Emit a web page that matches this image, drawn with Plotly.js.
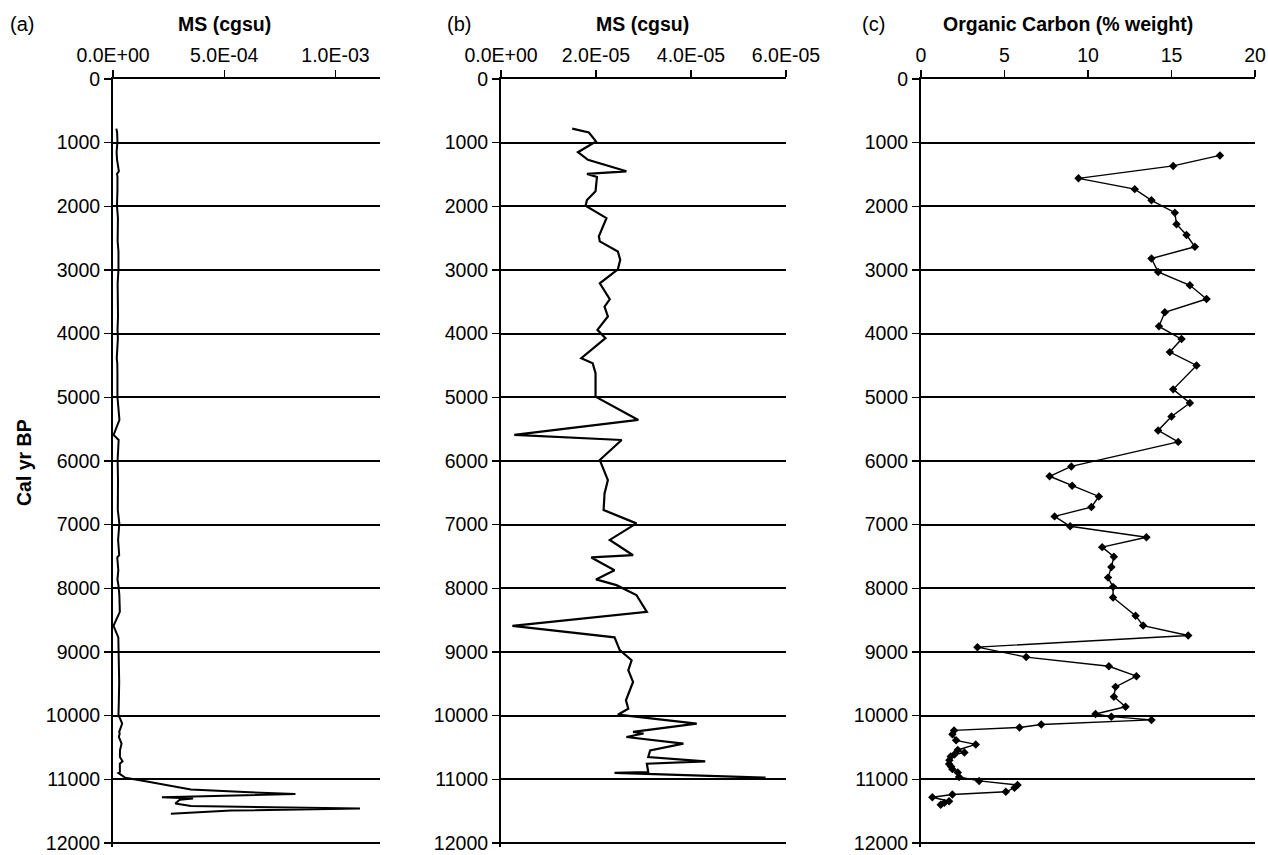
<!DOCTYPE html>
<html>
<head>
<meta charset="utf-8">
<script src="https://cdn.plot.ly/plotly-3.0.1.min.js"></script>
<style>html,body{margin:0;padding:0;background:#fff;}</style>
</head>
<body>
<div id="chart" style="width:1268px;height:855px;"></div>
<script>
// Panel (b): MS (cgsu) vs Cal yr BP (also the upper part of panel (a))
const ageMS = [780, 840, 980, 1150, 1270, 1450, 1490, 1540, 1765, 1900, 1990, 2185, 2470, 2550, 2710, 2840, 2990, 3210, 3460, 3575, 3730, 3940, 4070, 4385, 4465, 4620, 4990, 5355, 5590, 5670, 5985, 6300, 6510, 6770, 6980, 7240, 7480, 7515, 7715, 7860, 7950, 8105, 8370, 8590, 8770, 8970, 9130, 9285, 9470, 9760, 9890, 9985, 10125, 10255, 10280, 10335, 10440, 10545, 10650, 10717, 10755, 10885, 10900, 10920, 10975];
const msValues = [1.50e-5, 1.85e-5, 2.00e-5, 1.62e-5, 1.83e-5, 2.64e-5, 1.81e-5, 2.02e-5, 1.99e-5, 1.81e-5, 1.78e-5, 2.22e-5, 2.06e-5, 2.08e-5, 2.46e-5, 2.51e-5, 2.46e-5, 2.08e-5, 2.29e-5, 2.18e-5, 2.25e-5, 2.03e-5, 2.20e-5, 1.69e-5, 1.93e-5, 1.99e-5, 1.99e-5, 2.89e-5, 0.28e-5, 2.54e-5, 2.08e-5, 2.25e-5, 2.18e-5, 2.16e-5, 2.85e-5, 2.29e-5, 2.78e-5, 1.90e-5, 2.39e-5, 2.00e-5, 2.43e-5, 2.85e-5, 3.07e-5, 0.24e-5, 2.39e-5, 2.50e-5, 2.75e-5, 2.68e-5, 2.78e-5, 2.63e-5, 2.68e-5, 2.46e-5, 4.12e-5, 2.78e-5, 3.00e-5, 2.64e-5, 3.84e-5, 3.14e-5, 3.10e-5, 4.30e-5, 3.07e-5, 3.10e-5, 2.39e-5, 3.14e-5, 5.57e-5];

// Panel (a): the lowest part of the record (large MS peak)
const ageSpike = [11027, 11160, 11200, 11230, 11280, 11300, 11320, 11380, 11420, 11460, 11490, 11540];
const msSpike = [1.4e-4, 3.5e-4, 5.9e-4, 8.2e-4, 2.2e-4, 3.6e-4, 3.0e-4, 2.8e-4, 3.5e-4, 1.11e-3, 5.3e-4, 2.6e-4];

// Panel (c): Organic carbon (% weight)
const ageOC = [1200, 1365, 1560, 1730, 1905, 2100, 2280, 2450, 2635, 2820, 3030, 3240, 3455, 3665, 3885, 4085, 4290, 4500, 4875, 5090, 5300, 5520, 5700, 6085, 6240, 6390, 6557, 6724, 6870, 7025, 7197, 7353, 7504, 7665, 7832, 7977, 8143, 8430, 8585, 8741, 8924, 9080, 9225, 9380, 9548, 9704, 9860, 9974, 10016, 10067, 10140, 10186, 10232, 10292, 10388, 10452, 10540, 10580, 10610, 10643, 10700, 10760, 10800, 10840, 10893, 10962, 11025, 11090, 11133, 11196, 11238, 11281, 11345, 11370, 11398];
const orgCarbon = [17.9, 15.1, 9.43, 12.8, 13.8, 15.2, 15.3, 15.9, 16.4, 13.8, 14.2, 16.1, 17.1, 14.6, 14.25, 15.6, 14.9, 16.5, 15.1, 16.1, 15.0, 14.2, 15.4, 9.0, 7.7, 9.05, 10.65, 10.2, 8.0, 8.93, 13.5, 10.85, 11.55, 11.4, 11.2, 11.5, 11.5, 12.85, 13.3, 16.0, 3.38, 6.3, 11.25, 12.9, 11.65, 11.55, 12.25, 10.45, 11.4, 13.8, 7.2, 5.9, 1.98, 1.88, 2.1, 3.28, 2.2, 2.6, 2.0, 1.78, 1.7, 1.68, 1.8, 1.88, 2.2, 2.28, 3.48, 5.78, 5.6, 5.08, 1.88, 0.68, 1.68, 1.4, 1.18];

// Tick labels
const ageTicks = [0, 1000, 2000, 3000, 4000, 5000, 6000, 7000, 8000, 9000, 10000, 11000, 12000];
const ageLabels = ['0', '1000', '2000', '3000', '4000', '5000', '6000', '7000', '8000', '9000', '10000', '11000', '12000'];
const ticksA = [0, 5e-4, 1e-3];
const labelsA = ['0.0E+00', '5.0E-04', '1.0E-03'];
const ticksB = [0, 2e-5, 4e-5, 6e-5];
const labelsB = ['0.0E+00', '2.0E-05', '4.0E-05', '6.0E-05'];
const ticksC = [0, 5, 10, 15, 20];
const labelsC = ['0', '5', '10', '15', '20'];

const W = 1268, H = 855;
const FONT = 'Liberation Sans, Arial, Helvetica, sans-serif';
const yTop = 1 - 79 / H, yBot = 1 - 846.8 / H;
const domA = [113 / W, 380 / W], domB = [501 / W, 786 / W], domC = [921 / W, 1255 / W];

const traces = [
  {x: msValues.concat(msSpike), y: ageMS.concat(ageSpike), xaxis: 'x', yaxis: 'y', type: 'scatter', mode: 'lines',
   line: {color: '#000', width: 2}, hoverinfo: 'skip'},
  {x: msValues, y: ageMS, xaxis: 'x2', yaxis: 'y2', type: 'scatter', mode: 'lines',
   line: {color: '#000', width: 2.2}, hoverinfo: 'skip'},
  {x: orgCarbon, y: ageOC, xaxis: 'x3', yaxis: 'y3', type: 'scatter', mode: 'lines+markers',
   line: {color: '#000', width: 1.4}, marker: {symbol: 'diamond', size: 6.5, color: '#000'}, hoverinfo: 'skip'}
];

function xAx(dom, range, tv, tt) {
  return {domain: dom, range: range, side: 'top', tickmode: 'array', tickvals: tv, ticktext: tt,
    ticks: 'outside', ticklen: 7, tickwidth: 1.5, tickcolor: '#000',
    showline: true, linecolor: '#000', linewidth: 2, showgrid: false, zeroline: false,
    tickfont: {family: FONT, size: 19.5, color: '#000'}, fixedrange: true};
}
function yAx(anchor) {
  return {domain: [yBot, yTop], range: [12060, 0], anchor: anchor, tickmode: 'array', tickvals: ageTicks, ticktext: ageLabels,
    ticks: 'outside', ticklen: 7, tickwidth: 1.5, tickcolor: '#000',
    showline: true, linecolor: '#000', linewidth: 2, showgrid: true, gridcolor: '#000', gridwidth: 2,
    zeroline: false, tickfont: {family: FONT, size: 19.5, color: '#000'}, fixedrange: true};
}

const xa = xAx(domA, [0, 0.0012], ticksA, labelsA); xa.anchor = 'y';
const xb = xAx(domB, [0, 6e-5], ticksB, labelsB); xb.anchor = 'y2';
const xc = xAx(domC, [0, 20], ticksC, labelsC); xc.anchor = 'y3';

function ann(text, xpx, ypx, size, extra) {
  return Object.assign({text: text, xref: 'paper', yref: 'paper', x: xpx / W, y: 1 - ypx / H,
    xanchor: 'center', yanchor: 'middle', showarrow: false,
    font: {family: FONT, size: size, color: '#000'}}, extra || {});
}

const layout = {
  width: W, height: H, margin: {l: 0, r: 0, t: 0, b: 0},
  paper_bgcolor: '#fff', plot_bgcolor: '#fff', showlegend: false,
  xaxis: xa, yaxis: yAx('x'),
  xaxis2: xb, yaxis2: yAx('x2'),
  xaxis3: xc, yaxis3: yAx('x3'),
  annotations: [
    ann('(a)', 22, 24, 20),
    ann('(b)', 459, 24, 20),
    ann('(c)', 873, 24, 20),
    ann('<b>MS (cgsu)</b>', 224, 24, 19.5),
    ann('<b>MS (cgsu)</b>', 642, 24, 19.5),
    ann('<b>Organic Carbon (% weight)</b>', 1068, 24, 19.5),
    ann('<b>Cal yr BP</b>', 24, 463, 19.5, {textangle: -90})
  ]
};

Plotly.newPlot('chart', traces, layout, {staticPlot: true, displayModeBar: false});
</script>
</body>
</html>
